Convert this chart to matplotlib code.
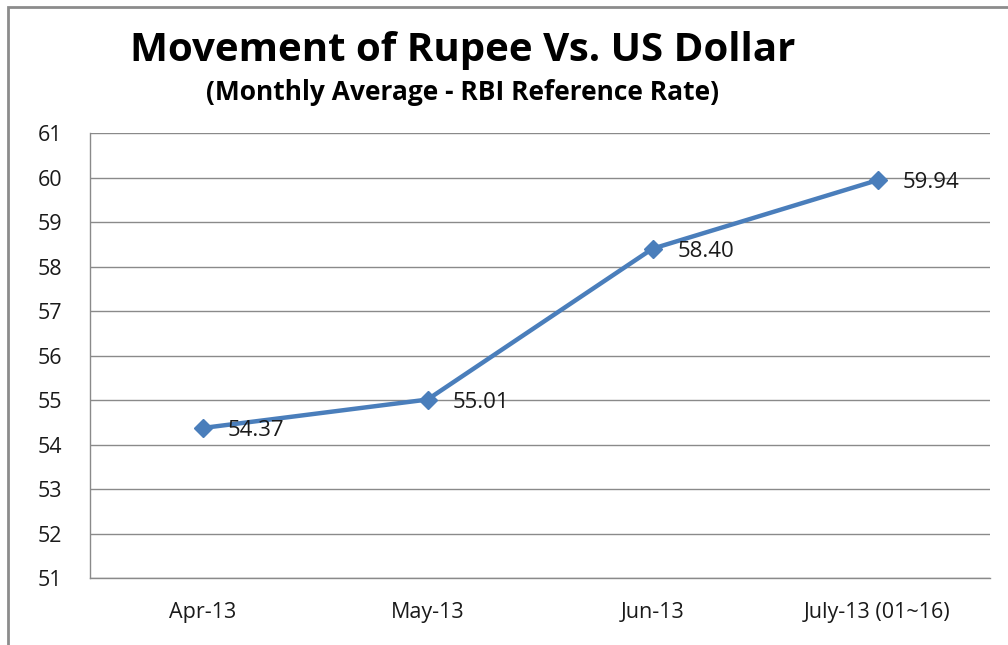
import matplotlib.pyplot as plt
from matplotlib.patches import Rectangle

# data
months = ["Apr-13", "May-13", "Jun-13", "July-13 (01~16)"]
rates = [54.37, 55.01, 58.40, 59.94]
labels = ["54.37", "55.01", "58.40", "59.94"]
yticks = list(range(51, 62))

plt.rcParams['font.family'] = ['Open Sans', 'DejaVu Sans']

fig = plt.figure(figsize=(10.08, 6.45), dpi=100)
ax = fig.add_axes([90 / 1008, 1 - 578 / 645, 900 / 1008, 445 / 645])

# outer chart frame (runs off the right and bottom edges like the screenshot)
fig.patches.append(Rectangle((8 / 1008, -0.05), 1.05, 1 - 7 / 645 + 0.05,
                             transform=fig.transFigure, fill=False,
                             edgecolor='#8c8c8c', linewidth=2, clip_on=False))

x = list(range(len(months)))
ax.plot(x, rates, color='#4a7ebb', linewidth=3.2, marker='D', markersize=9,
        markeredgecolor='#4a7ebb', zorder=3)
for xi, yi, lab in zip(x, rates, labels):
    ax.annotate(lab, (xi, yi), xytext=(18, -2), textcoords='offset points',
                va='center', ha='left', fontsize=16, color='#1a1a1a', zorder=4)

ax.set_xlim(-0.5, 3.5)
ax.set_ylim(51, 61)
ax.set_yticks(yticks)
ax.set_xticks(x)
ax.set_xticklabels(months)
ax.tick_params(axis='both', length=0, labelsize=15.5, colors='#1a1a1a')
ax.tick_params(axis='y', pad=20)
ax.tick_params(axis='x', pad=17)
ax.grid(axis='y', color='#8a8a8a', linewidth=1)
ax.set_axisbelow(True)
for s in ['top', 'right']:
    ax.spines[s].set_visible(False)
for s in ['left', 'bottom']:
    ax.spines[s].set_color('#8a8a8a')
    ax.spines[s].set_linewidth(1)

fig.text(463 / 1008, 1 - 50 / 645, "Movement of Rupee Vs. US Dollar",
         ha='center', va='center', fontsize=29, fontweight='bold', color='black')
fig.text(463 / 1008, 1 - 93 / 645, "(Monthly Average - RBI Reference Rate)",
         ha='center', va='center', fontsize=19, fontweight='bold', color='black')

fig.savefig("out.png", dpi=100)
